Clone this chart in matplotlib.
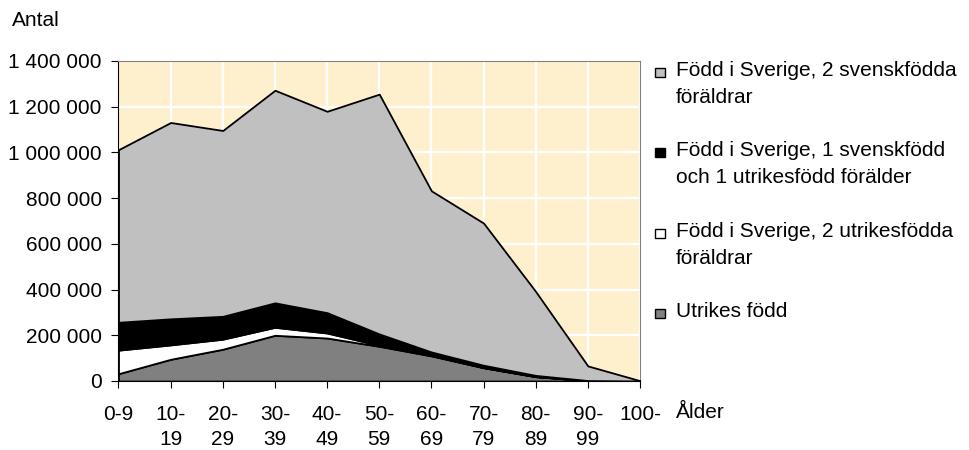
import numpy as np
import matplotlib.pyplot as plt
from matplotlib.ticker import FuncFormatter, MultipleLocator
from matplotlib.patches import Rectangle

plt.rcParams['font.family'] = ['Liberation Sans', 'DejaVu Sans']

# ålderklasser
aldrar = ['0-9', '10-\n19', '20-\n29', '30-\n39', '40-\n49', '50-\n59',
          '60-\n69', '70-\n79', '80-\n89', '90-\n99', '100-']

# antal personer per grupp (avläst)
utrikes = [32000, 95000, 139000, 200000, 188000, 152000, 110000, 58000, 19000, 1500, 200]
sv_2_utr = [103000, 63000, 44000, 35000, 22000, 4000, 2000, 1000, 500, 0, 0]
sv_1_sv_1_utr = [122000, 114000, 100000, 107000, 89000, 50000, 15000, 10000, 5000, 500, 0]
sv_2_sv = [755000, 859000, 813000, 930000, 881000, 1049000, 705000, 622000, 367000, 64000, 1300]

serier = ['Utrikes född',
          'Född i Sverige, 2 utrikesfödda\nföräldrar',
          'Född i Sverige, 1 svenskfödd\noch 1 utrikesfödd förälder',
          'Född i Sverige, 2 svenskfödda\nföräldrar']
farger = ['#808080', '#ffffff', '#000000', '#c0c0c0']

fs = 15
fig = plt.figure(figsize=(9.7, 4.5), dpi=100)
ax = fig.add_axes([118.5 / 970, 69 / 450, (640 - 118.5) / 970, (381 - 61) / 450])
ax.set_facecolor('#fff0cd')

x = np.arange(len(aldrar))
ax.stackplot(x, utrikes, sv_2_utr, sv_1_sv_1_utr, sv_2_sv,
             colors=farger, edgecolor='black', linewidth=1.3, zorder=3)

ax.set_xlim(0, len(aldrar) - 1)
ax.set_ylim(0, 1400000)
ax.yaxis.set_major_locator(MultipleLocator(200000))
ax.yaxis.set_major_formatter(FuncFormatter(lambda v, p: f'{int(v):,}'.replace(',', ' ')))
ax.set_xticks(x)
ax.set_xticklabels(aldrar, linespacing=1.45)

ax.grid(True, color='white', linewidth=1.6, zorder=1)
ax.set_axisbelow(True)

for s in ['top', 'right']:
    ax.spines[s].set_color('#808080')
for s in ['left', 'bottom']:
    ax.spines[s].set_color('black')
ax.tick_params(axis='both', labelsize=fs, length=5, direction='out')
ax.tick_params(axis='y', pad=7)
ax.tick_params(axis='x', pad=12)

fig.text(12 / 970, 1 - 20 / 450, 'Antal', fontsize=fs, va='center')
fig.text(676 / 970, 1 - 413 / 450, 'Ålder', fontsize=fs, va='center')

# legend, översta serien först
ypos = [71.7, 151.7, 233, 313]
for i, y in enumerate(ypos):
    k = len(serier) - 1 - i
    fig.add_artist(Rectangle((655 / 970, 1 - (y + 5) / 450), 10 / 970, 9 / 450,
                             facecolor=farger[k], edgecolor='black', linewidth=1,
                             transform=fig.transFigure))
    fig.text(676 / 970, 1 - (y - 11) / 450, serier[k], fontsize=fs, va='top',
             linespacing=1.55)

fig.savefig('out.png')
